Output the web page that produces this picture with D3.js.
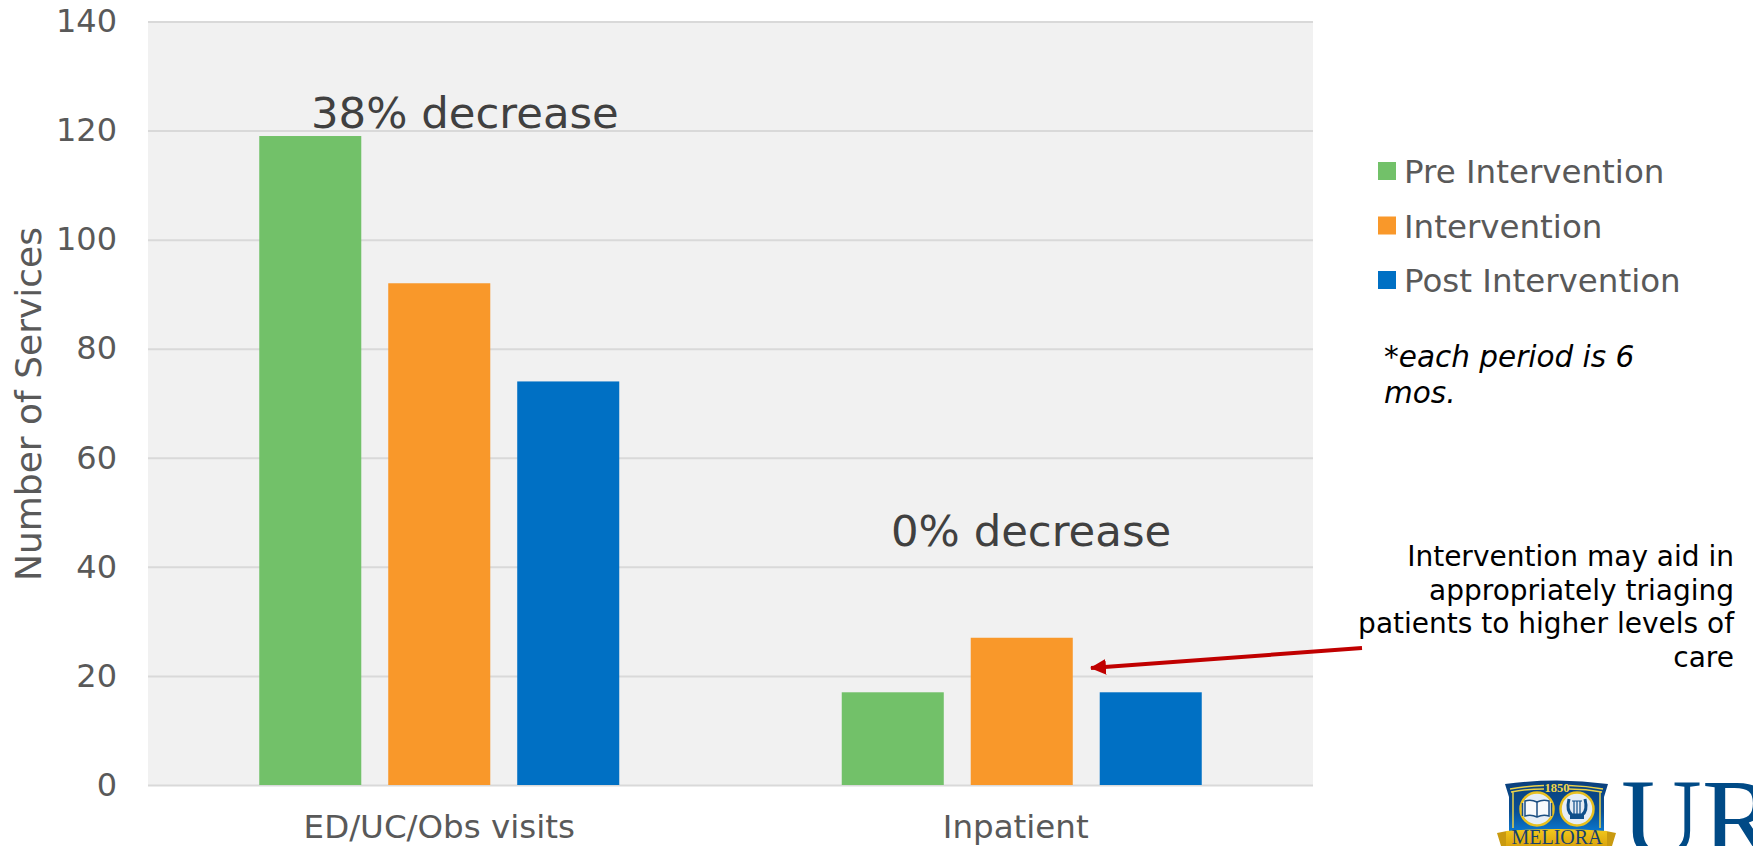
<!DOCTYPE html>
<html>
<head>
<meta charset="utf-8">
<script src="https://cdnjs.cloudflare.com/ajax/libs/d3/7.8.5/d3.min.js"></script>
<style>
  html, body { margin: 0; padding: 0; background: #fff; overflow: hidden; }
  svg { display: block; font-family: "DejaVu Sans", sans-serif; }
  .tick line { stroke: #d9d9d9; stroke-width: 2; }
  .tick text { fill: #595959; }
  .domain { display: none; }
</style>
</head>
<body>
<svg width="1753" height="846"></svg>
<script>
var categories = ["ED/UC/Obs visits", "Inpatient"];
var seriesNames = ["Pre Intervention", "Intervention", "Post Intervention"];
var preValues = [119, 17];
var interventionValues = [92, 27];
var postValues = [74, 17];
var seriesColors = ["#72c169", "#f9982a", "#0070c4"];
var yTicks = [0, 20, 40, 60, 80, 100, 120, 140];
var decreaseLabels = ["38% decrease", "0% decrease"];
var calloutLines = ["Intervention may aid in", "appropriately triaging", "patients to higher levels of", "care"];
var noteLines = ["*each period is 6", "mos."];

var svg = d3.select("svg");
var plot = { left: 148, right: 1313, top: 21.5, bottom: 785 };

var x0 = d3.scaleBand().domain(categories).range([plot.left, plot.right]);
var x1 = d3.scaleBand().domain(seriesNames).range([x0.bandwidth() / 2 - 180, x0.bandwidth() / 2 + 180]).paddingInner(0.209);
var y = d3.scaleLinear().domain([0, 140]).range([plot.bottom, plot.top]);

svg.append("rect")
    .attr("x", plot.left)
    .attr("y", plot.top)
    .attr("width", plot.right - plot.left)
    .attr("height", plot.bottom - plot.top)
    .attr("fill", "#f1f1f1");

// gridlines and value labels
var yAxis = svg.append("g")
    .attr("transform", "translate(" + plot.left + ",0)")
    .call(d3.axisLeft(y).tickValues(yTicks).tickSize(-(plot.right - plot.left)).tickPadding(31));
yAxis.selectAll("text").attr("font-size", 32).attr("font-family", "DejaVu Sans");

var xAxis = svg.append("g")
    .attr("transform", "translate(0," + plot.bottom + ")")
    .call(d3.axisBottom(x0).tickSize(0).tickPadding(30));
xAxis.selectAll("text")
    .attr("font-size", 32.5)
    .attr("font-family", "DejaVu Sans")
    .attr("dx", function(d, i) { return i === 1 ? -6 : 0; });

var seriesValues = [preValues, interventionValues, postValues];
seriesNames.forEach(function(name, i) {
  svg.append("g").selectAll("rect")
    .data(seriesValues[i])
    .enter().append("rect")
      .attr("x", function(d, j) { return x0(categories[j]) + x1(name); })
      .attr("y", function(d) { return y(d); })
      .attr("width", x1.bandwidth())
      .attr("height", function(d) { return y(0) - y(d); })
      .attr("fill", seriesColors[i]);
});

svg.append("text")
    .attr("transform", "translate(41,404) rotate(-90)")
    .attr("text-anchor", "middle")
    .attr("font-size", 36)
    .attr("fill", "#595959")
    .text("Number of Services");

// percent change labels over each group
svg.append("text").attr("x", 311).attr("y", 128).attr("font-size", 43.4).attr("fill", "#404040").text(decreaseLabels[0]);
svg.append("text").attr("x", 891).attr("y", 546).attr("font-size", 43.4).attr("fill", "#404040").text(decreaseLabels[1]);

// legend
seriesNames.forEach(function(name, i) {
  var row = svg.append("g").attr("transform", "translate(1378," + (162 + i * 54.5) + ")");
  row.append("rect").attr("width", 18).attr("height", 18).attr("fill", seriesColors[i]);
  row.append("text").attr("x", 26).attr("y", 21).attr("font-size", 32.5).attr("fill", "#595959").text(name);
});

svg.append("g").selectAll("text")
    .data(noteLines)
    .enter().append("text")
      .attr("x", 1384)
      .attr("y", function(d, i) { return 367 + i * 36; })
      .attr("font-size", 29.5)
      .attr("font-style", "italic")
      .attr("fill", "#000")
      .text(function(d) { return d; });

svg.append("g").selectAll("text")
    .data(calloutLines)
    .enter().append("text")
      .attr("x", 1734)
      .attr("y", function(d, i) { return 566 + i * 33.6; })
      .attr("text-anchor", "end")
      .attr("font-size", 28)
      .attr("fill", "#000")
      .text(function(d) { return d; });

// callout arrow
svg.append("defs").append("marker")
    .attr("id", "arrowhead")
    .attr("markerUnits", "userSpaceOnUse")
    .attr("viewBox", "0 0 16 16")
    .attr("markerWidth", 16)
    .attr("markerHeight", 16)
    .attr("refX", 15)
    .attr("refY", 8)
    .attr("orient", "auto")
  .append("path")
    .attr("d", "M0,0L16,8L0,16Z")
    .attr("fill", "#c00000");
svg.append("line")
    .attr("x1", 1362).attr("y1", 648)
    .attr("x2", 1091).attr("y2", 668)
    .attr("stroke", "#c00000")
    .attr("stroke-width", 4)
    .attr("marker-end", "url(#arrowhead)");

// university crest and wordmark, cut off by the page edge
var grad = svg.select("defs").append("linearGradient")
    .attr("id", "crestBlue").attr("x1", 0).attr("y1", 0).attr("x2", 0).attr("y2", 1);
grad.append("stop").attr("offset", 0).attr("stop-color", "#0a3f7c");
grad.append("stop").attr("offset", 0.6).attr("stop-color", "#0a4f94");
grad.append("stop").attr("offset", 1).attr("stop-color", "#0b78d0");

var ribbon = svg.select("defs").append("linearGradient")
    .attr("id", "ribbonGold").attr("x1", 0).attr("y1", 0).attr("x2", 0).attr("y2", 1);
ribbon.append("stop").attr("offset", 0).attr("stop-color", "#f2c81c");
ribbon.append("stop").attr("offset", 1).attr("stop-color", "#dba50e");

var logo = svg.append("g");
logo.append("path")
    .attr("d", "M1505,784Q1557,777 1608,784L1604,797V832H1509V797Z")
    .attr("fill", "url(#crestBlue)");
logo.append("path")
    .attr("d", "M1510,789Q1527,786 1544,785.5M1569,785.5Q1586,786 1603,789M1511,792Q1527,789 1544,789M1569,789Q1586,789 1602,792M1513,792V828M1600,792V828")
    .attr("fill", "none").attr("stroke", "#e9d24a").attr("stroke-width", 1.5);
logo.append("text").attr("x", 1557).attr("y", 792).attr("text-anchor", "middle")
    .attr("font-family", "Liberation Serif").attr("font-size", 12.5).attr("font-weight", "bold").attr("fill", "#f0d64a").text("1850");
[1537, 1577].forEach(function(cx) {
  logo.append("circle").attr("cx", cx).attr("cy", 809).attr("r", 16.5)
      .attr("fill", "#e6edf5").attr("stroke", "#e8c020").attr("stroke-width", 2.5);
});
// open book
logo.append("path")
    .attr("d", "M1525,801Q1531,799 1537,802Q1543,799 1549,801V816Q1543,814 1537,817Q1531,814 1525,816Z")
    .attr("fill", "#f8fafc").attr("stroke", "#1c4f82").attr("stroke-width", 1.5);
logo.append("path")
    .attr("d", "M1537,802V817M1522.5,803V816M1551.5,803V816")
    .attr("stroke", "#1c4f82").attr("stroke-width", 1.5);
// lyre
logo.append("path")
    .attr("d", "M1569,799Q1566,811 1572,815H1582Q1588,811 1585,799")
    .attr("fill", "none").attr("stroke", "#0f4f8a").attr("stroke-width", 3);
logo.append("path")
    .attr("d", "M1572,801H1582M1574,801V815M1577,801V815M1580,801V815")
    .attr("fill", "none").attr("stroke", "#0f4f8a").attr("stroke-width", 1.2);
logo.append("rect")
    .attr("x", 1570).attr("y", 815).attr("width", 14).attr("height", 4)
    .attr("fill", "#0f4f8a");
// banner
logo.append("path")
    .attr("d", "M1497,833L1507,831V846H1501Z M1616,833L1606,831V846H1612Z")
    .attr("fill", "#c99a10");
logo.append("path")
    .attr("d", "M1506,831Q1557,827 1607,831V846H1506Z")
    .attr("fill", "url(#ribbonGold)");
logo.append("text").attr("x", 1557).attr("y", 844).attr("text-anchor", "middle")
    .attr("font-family", "Liberation Serif").attr("font-size", 20)
    .attr("fill", "#16406f").text("MELIORA");
logo.append("text").attr("x", 1621).attr("y", 856)
    .attr("font-family", "Liberation Serif").attr("font-size", 112)
    .attr("fill", "#004a86").text("UR");
</script>
</body>
</html>
